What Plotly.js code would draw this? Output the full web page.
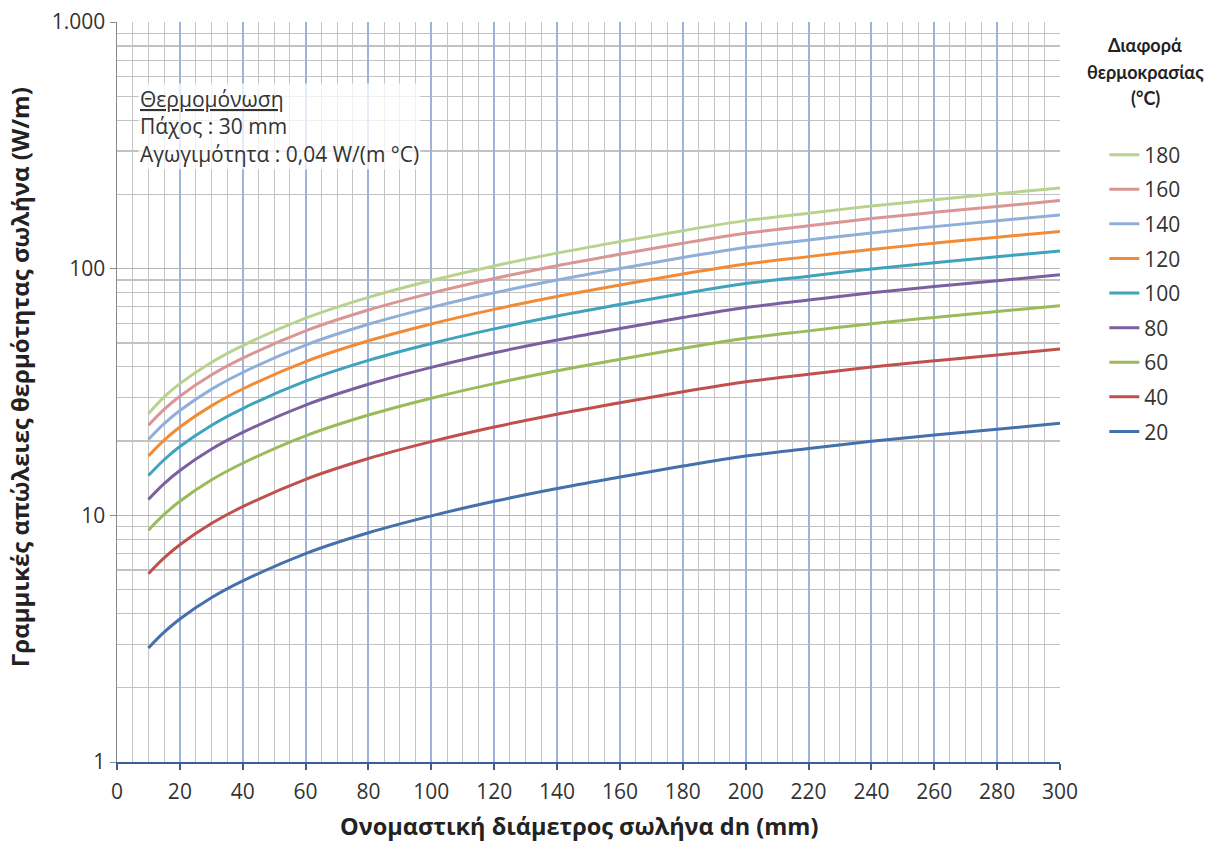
<!DOCTYPE html>
<html>
<head>
<meta charset="utf-8">
<script src="https://cdn.plot.ly/plotly-3.0.1.min.js"></script>
<style>html,body{margin:0;padding:0;background:#fff;}#chart{width:1212px;height:843px;}</style>
</head>
<body>
<div id="chart"></div>
<script>
// Nominal pipe diameter dn (mm)
const dn = [10, 15, 20, 30, 40, 60, 80, 100, 120, 140, 160, 180, 200, 220, 240, 260, 280, 300];

// Linear heat losses (W/m) for each temperature difference (°C)
const loss20  = [2.9, 3.36, 3.8, 4.63, 5.42, 7.0, 8.5, 9.95, 11.4, 12.85, 14.3, 15.85, 17.4, 18.65, 19.95, 21.15, 22.35, 23.6];
const loss40  = [5.8, 6.72, 7.6, 9.26, 10.84, 14.0, 17.0, 19.9, 22.8, 25.7, 28.6, 31.7, 34.8, 37.3, 39.9, 42.3, 44.7, 47.2];
const loss60  = [8.7, 10.08, 11.4, 13.9, 16.26, 21.0, 25.5, 29.85, 34.2, 38.55, 42.9, 47.55, 52.2, 55.95, 59.85, 63.45, 67.05, 70.8];
const loss80  = [11.6, 13.44, 15.2, 18.52, 21.68, 28.0, 34.0, 39.8, 45.6, 51.4, 57.2, 63.4, 69.6, 74.6, 79.8, 84.6, 89.4, 94.4];
const loss100 = [14.5, 16.8, 19.0, 23.15, 27.1, 35.0, 42.5, 49.75, 57.0, 64.25, 71.5, 79.25, 87.0, 93.25, 99.75, 105.75, 111.75, 118.0];
const loss120 = [17.4, 20.16, 22.8, 27.78, 32.52, 42.0, 51.0, 59.7, 68.4, 77.1, 85.8, 95.1, 104.4, 111.9, 119.7, 126.9, 134.1, 141.6];
const loss140 = [20.3, 23.52, 26.6, 32.41, 37.94, 49.0, 59.5, 69.65, 79.8, 89.95, 100.1, 110.95, 121.8, 130.55, 139.65, 148.05, 156.45, 165.2];
const loss160 = [23.2, 26.88, 30.4, 37.04, 43.36, 56.0, 68.0, 79.6, 91.2, 102.8, 114.4, 126.8, 139.2, 149.2, 159.6, 169.2, 178.8, 188.8];
const loss180 = [25.8, 30.2, 34.2, 41.67, 48.78, 63.0, 76.5, 89.5, 102.6, 115.6, 128.7, 142.6, 156.6, 167.8, 179.5, 190.3, 201.1, 212.4];

// Listed in legend order (top to bottom)
const seriesNames = ['180', '160', '140', '120', '100', '80', '60', '40', '20'];
const seriesValues = [loss180, loss160, loss140, loss120, loss100, loss80, loss60, loss40, loss20];
const seriesColors = ['#B9D38F', '#D99694', '#90AEDA', '#F38A35', '#3FA3BD', '#7B5FA0', '#9BBB59', '#C0504D', '#4470AB'];

const yTickVals = [1, 10, 100, 1000];
const yTickText = ['1', '10', '100', '1.000'];

const FONT = '"Open Sans", Lato, sans-serif';
const TFONT = 'Lato, "Open Sans", sans-serif';

const traces = seriesNames.map((name, i) => ({
  x: dn,
  y: seriesValues[i],
  name: name,
  legendgroup: 'g' + name,
  type: 'scatter',
  mode: 'lines',
  line: {color: seriesColors[i], width: 3, shape: 'spline', smoothing: 1},
  hoverinfo: 'x+y+name'
}));

const layout = {
  width: 1212,
  height: 843,
  margin: {l: 117, r: 152, t: 22, b: 81, pad: 0},
  paper_bgcolor: '#ffffff',
  plot_bgcolor: '#ffffff',
  font: {family: FONT, size: 21, color: '#333333'},
  showlegend: true,
  legend: {
    x: 1.047, xanchor: 'left',
    y: 0.848, yanchor: 'top',
    traceorder: 'grouped',
    tracegroupgap: 4.3,
    font: {family: FONT, size: 21, color: '#333333'},
    bgcolor: 'rgba(0,0,0,0)',
    itemwidth: 30
  },
  xaxis: {
    range: [0, 300],
    dtick: 20,
    tick0: 0,
    showgrid: true,
    gridcolor: '#9DB4D8',
    gridwidth: 2,
    minor: {dtick: 5, showgrid: true, gridcolor: '#C4C4C4', gridwidth: 1, ticks: ''},
    showline: true,
    linecolor: '#3B5C98',
    linewidth: 2,
    ticks: 'outside',
    ticklen: 6,
    tickwidth: 2,
    tickcolor: '#3B5C98',
    ticklabelstandoff: 4,
    zeroline: false,
    tickfont: {family: FONT, size: 21, color: '#333333'}
  },
  yaxis: {
    type: 'log',
    range: [0, 3],
    tickvals: yTickVals,
    ticktext: yTickText,
    showgrid: true,
    gridcolor: '#B4B4B4',
    gridwidth: 1.3,
    minor: {dtick: 'D1', showgrid: true, gridcolor: '#C2C2C2', gridwidth: 1.2, ticks: ''},
    showline: true,
    linecolor: '#8A8A8A',
    linewidth: 1.5,
    ticks: 'outside',
    ticklen: 6,
    tickcolor: '#8A8A8A',
    zeroline: false,
    tickfont: {family: FONT, size: 21, color: '#333333'}
  },
  annotations: [
    {
      xref: 'paper', yref: 'paper',
      x: 0.49, y: -0.087, xanchor: 'center', yanchor: 'middle',
      showarrow: false,
      text: '<b>Ονομαστική διάμετρος σωλήνα dn (mm)</b>',
      font: {family: FONT, size: 23.5, color: '#222222'}
    },
    {
      xref: 'paper', yref: 'paper',
      x: -0.104, y: 0.52, xanchor: 'center', yanchor: 'middle',
      textangle: -90,
      showarrow: false,
      text: '<b>Γραμμικές απώλειες θερμότητας σωλήνα (W/m)</b>',
      font: {family: FONT, size: 24, color: '#222222'}
    },
    {
      xref: 'paper', yref: 'paper',
      x: 0.022, y: 0.917, xanchor: 'left', yanchor: 'top',
      align: 'left',
      showarrow: false,
      text: '<u>Θερμομόνωση</u><br>Πάχος : 30 mm<br>Αγωγιμότητα : 0,04 W/(m °C)',
      font: {family: FONT, size: 21, color: '#333333'},
      bgcolor: 'rgba(255,255,255,0.75)'
    },
    {
      xref: 'paper', yref: 'paper',
      x: 1.0905, y: 0.969, xanchor: 'center', yanchor: 'middle',
      showarrow: false,
      text: '<b>Διαφορά</b>',
      font: {family: TFONT, size: 18, color: '#222222'}
    },
    {
      xref: 'paper', yref: 'paper',
      x: 1.0905, y: 0.9324, xanchor: 'center', yanchor: 'middle',
      showarrow: false,
      text: '<b>θερμοκρασίας</b>',
      font: {family: TFONT, size: 18, color: '#222222'}
    },
    {
      xref: 'paper', yref: 'paper',
      x: 1.0905, y: 0.8973, xanchor: 'center', yanchor: 'middle',
      showarrow: false,
      text: '<b>(°C)</b>',
      font: {family: TFONT, size: 18, color: '#222222'}
    }
  ]
};

Plotly.newPlot('chart', traces, layout, {displayModeBar: false, staticPlot: true});
</script>
</body>
</html>
